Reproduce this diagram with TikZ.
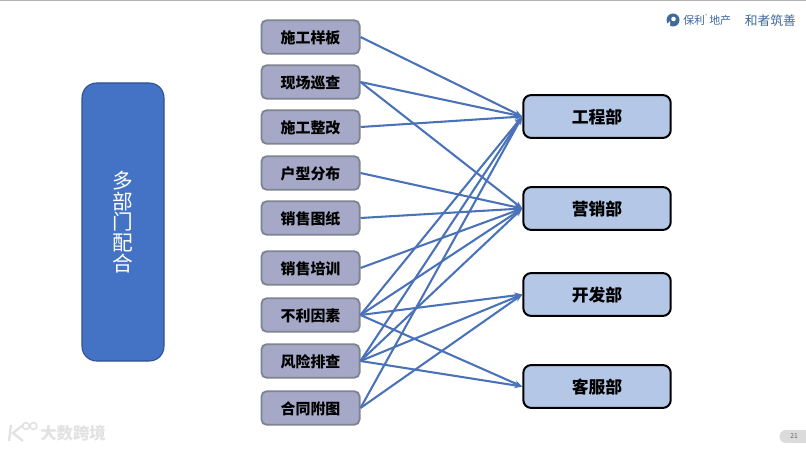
\documentclass[tikz,border=0pt]{standalone}
\usepackage{fontspec}
\setmainfont{Noto Sans CJK SC}
\newfontfamily\cjkbold[BoldFont={Noto Sans CJK SC Bold}]{Noto Sans CJK SC}
\definecolor{srcfill}{HTML}{A5A8C6}
\definecolor{srcline}{HTML}{7F8491}
\definecolor{dstfill}{HTML}{B4C7E7}
\definecolor{bigfill}{HTML}{4472C4}
\definecolor{bigline}{HTML}{2F528F}
\definecolor{linkc}{HTML}{4A72B8}
\definecolor{logoc}{HTML}{3F6A9A}
\definecolor{wmark}{HTML}{E2E2E2}
\tikzset{
  x=0.75pt,y=-0.75pt,
  srcbox/.style={draw=srcline,line width=1.4pt,fill=srcfill,rounded corners=4pt,minimum width=73.6pt,minimum height=25.2pt,inner sep=0pt,text height=11pt,text depth=1.3pt,font=\bfseries\fontsize{11.2}{13}\selectfont,text=black},
  dstbox/.style={draw=black,line width=1.5pt,fill=dstfill,rounded corners=6pt,minimum width=110.6pt,minimum height=32.2pt,inner sep=0pt,text height=12.6pt,text depth=1.5pt,font=\bfseries\fontsize{12.6}{15}\selectfont,text=black},
  bigbox/.style={draw=bigline,line width=0.8pt,fill=bigfill,rounded corners=11pt,minimum width=61.5pt,minimum height=208.5pt,inner sep=0pt,font=\fontsize{15.5}{15.5}\selectfont,text=white,align=center},
  link/.style={draw=linkc,line width=1.55pt,-{Stealth[length=6pt,width=4.5pt]}},
  logotext/.style={inner sep=0pt,text=logoc,font=\fontsize{8.2}{10}\selectfont},
  wmtext/.style={inner sep=0pt,text=wmark,font=\bfseries\fontsize{12.3}{14}\selectfont},
}
\usetikzlibrary{arrows.meta}
\begin{document}
\begin{tikzpicture}
\path[use as bounding box] (0,0) rectangle (806,449);
\fill[white] (0,0) rectangle (806,449);
\fill[black!30] (0,0) rectangle (806,1.2);

\node[bigbox] (big) at (123,222) {多\\部\\门\\配\\合};

\node[srcbox] (s1) at (310.5,37)  {施工样板};
\node[srcbox] (s2) at (310.5,82)  {现场巡查};
\node[srcbox] (s3) at (310.5,127) {施工整改};
\node[srcbox] (s4) at (310.5,173) {户型分布};
\node[srcbox] (s5) at (310.5,218) {销售图纸};
\node[srcbox] (s6) at (310.5,268) {销售培训};
\node[srcbox] (s7) at (310.5,315) {不利因素};
\node[srcbox] (s8) at (310.5,361) {风险排查};
\node[srcbox] (s9) at (310.5,408) {合同附图};

\node[dstbox] (d1) at (597,116.5) {工程部};
\node[dstbox] (d2) at (597,208.5) {营销部};
\node[dstbox] (d3) at (597,294.5) {开发部};
\node[dstbox] (d4) at (597,386.5) {客服部};

\foreach \a/\b in {s1/d1,s2/d1,s2/d2,s3/d1,s4/d2,s5/d2,s6/d2,
  s7/d1,s7/d2,s7/d3,s7/d4,s8/d1,s8/d2,s8/d3,s8/d4,s9/d1,s9/d3}
  \draw[link] (\a.east) -- (\b.west);

% logo, top right
\fill[logoc] (673,20) circle (6.5);
\fill[white] (673.5,19) circle (2.3);
\fill[white] (667,24) -- (670,21) -- (670,28) -- (667,28) -- cycle;
\node[logotext,anchor=west] (logoa) at (683,20.5) {保利};
\node[logotext,anchor=south west,font=\fontsize{3}{4}\selectfont] (logor) at (705,18) {®};
\node[logotext,anchor=west] (logob) at (709,20.5) {地产};
\node[logotext,anchor=west,font=\fontsize{9.6}{11}\selectfont] (logoc) at (744.5,20.5) {和者筑善};

% watermark, bottom left
\draw[wmark,line width=1.7pt] (11,425) -- (9,441) (23,425) -- (13,433) -- (23,441);
\draw[wmark,line width=1.2pt] (26,426) circle (3.4) (33.5,426) circle (3.4);
\node[wmtext,anchor=west] (wm) at (40,433.5) {大数跨境};

% page number pill
\fill[black!14] (786,430) rectangle (806,443);
\fill[black!14] (786,436.5) circle (6.5);
\node[inner sep=0pt,text=black!60,font=\fontsize{5}{6}\selectfont] (pg) at (794,436.5) {21};
\end{tikzpicture}
\end{document}
